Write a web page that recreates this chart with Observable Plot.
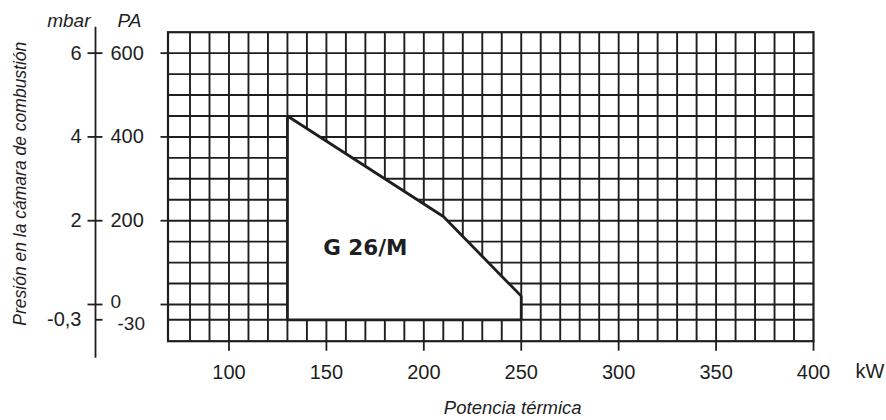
<!DOCTYPE html>
<html>
<head>
<meta charset="utf-8">
<script src="https://cdn.jsdelivr.net/npm/d3@7"></script>
<script src="https://cdn.jsdelivr.net/npm/@observablehq/plot@0.6"></script>
<style>
  body { margin: 0; background: #fff; }
  g[aria-label="envelope-label"] text { letter-spacing: 2px; }
</style>
</head>
<body>
<div id="chart"></div>
<script>
// ---- data ----
const envelopeKW = [130, 130, 210, 250, 250];      // kW
const envelopePa = [-30, 450, 210, 20, -30];       // Pa
const modelName = "G 26/M";
const modelAtKW = 170, modelAtPa = 135;

const xTicks = [100, 150, 200, 250, 300, 350, 400];
const paTicks = [600, 400, 200, 0];
const paLabels = ["600", "400", "200"];
const paZeroLabel = ["0"];
const paNegTicks = [-30];
const paNegLabels = ["-30"];
const mbarTicks = [600, 400, 200, -30];
const mbarLabels = ["6", "4", "2", "-0,3"];

const xGrid = [80, 90, 100, 110, 120, 130, 140, 150, 160, 170, 180, 190, 200, 210, 220, 230, 240,
               250, 260, 270, 280, 290, 300, 310, 320, 330, 340, 350, 360, 370, 380, 390];
const yGrid = [-30, 0, 50, 100, 150, 200, 250, 300, 350, 400, 450, 500, 550, 600];

const X_MIN = 68.7, X_MAX = 400, Y_MIN = -72, Y_MAX = 650;

// ---- derived tables ----
const outline = envelopeKW.map((k, i) => ({kw: k, pa: envelopePa[i]}));
outline.push(outline[0]);
const topEdge = outline.slice(1, 4);
const ink = "#1e1e1e";

const chart = Plot.plot({
  width: 886,
  height: 420,
  marginLeft: 167.5,
  marginRight: 73,
  marginTop: 31.7,
  marginBottom: 79.3,
  style: {fontFamily: "Liberation Sans", color: ink, background: "#fff", overflow: "visible"},
  x: {type: "linear", domain: [X_MIN, X_MAX]},
  y: {type: "linear", domain: [Y_MIN, 0, Y_MAX], range: [340.7, 304, 31.7]},
  marks: [
    // grid
    Plot.ruleX(xGrid, {x: d => d, y1: Y_MIN, y2: Y_MAX, stroke: ink, strokeWidth: 1.9}),
    Plot.ruleY(yGrid, {y: d => d, x1: X_MIN, x2: X_MAX, stroke: ink, strokeWidth: 1.9}),
    Plot.frame({stroke: ink, strokeWidth: 2.2}),
    // envelope
    Plot.areaY(topEdge, {x: "kw", y1: envelopePa[0], y2: "pa", fill: "#fff"}),
    Plot.line(outline, {x: "kw", y: "pa", stroke: ink, strokeWidth: 2.8, strokeLinejoin: "miter"}),
    Plot.text([modelName], {x: () => modelAtKW, y: () => modelAtPa, text: d => d,
      fontFamily: "DejaVu Sans", fontWeight: "bold", fontSize: 21.5, ariaLabel: "envelope-label"}),
    // x axis
    Plot.axisX({ticks: xTicks, tickSize: 10, tickPadding: 14, fontSize: 20, label: null,
      stroke: ink, strokeWidth: 1.8}),
    Plot.text(["kW"], {text: d => d, frameAnchor: "bottom-right", dx: 42, dy: 30,
      textAnchor: "start", lineAnchor: "middle", fontSize: 20}),
    Plot.text(["Potencia térmica"], {text: d => d, frameAnchor: "bottom", dx: 22, dy: 67,
      textAnchor: "middle", lineAnchor: "middle", fontStyle: "italic", fontSize: 18.5}),
    // y: small ticks at frame edge
    Plot.axisY({ticks: paTicks, tickSize: 7, tickFormat: () => "", label: null, stroke: ink, strokeWidth: 1.8}),
    // separate pressure axis on the left
    Plot.ruleX([X_MIN], {x: d => d, dx: -72.5, insetTop: -5, insetBottom: -17, stroke: ink, strokeWidth: 1.8}),
    Plot.axisY({ticks: paTicks, tickSize: 15, dx: -65, tickFormat: () => "", label: null, stroke: ink, strokeWidth: 1.8}),
    Plot.axisY({ticks: paNegTicks, tickSize: 7, dx: -65, tickFormat: () => "", label: null, stroke: ink, strokeWidth: 1.8}),
    Plot.text(paTicks.slice(0, 3), {y: d => d, text: (d, i) => paLabels[i], frameAnchor: "left", dx: -57.5,
      textAnchor: "start", lineAnchor: "middle", fontSize: 20}),
    Plot.text(paTicks.slice(3), {y: d => d, text: (d, i) => paZeroLabel[i], frameAnchor: "left", dx: -57.5, dy: -3,
      textAnchor: "start", lineAnchor: "middle", fontSize: 19}),
    Plot.text(paNegTicks, {y: d => d, text: (d, i) => paNegLabels[i], frameAnchor: "left", dx: -50.5, dy: 4,
      textAnchor: "start", lineAnchor: "middle", fontSize: 19}),
    Plot.text(mbarTicks, {y: d => d, text: (d, i) => mbarLabels[i], frameAnchor: "left", dx: -86.5,
      textAnchor: "end", lineAnchor: "middle", fontSize: 20}),
    Plot.text(["mbar"], {text: d => d, frameAnchor: "top-left", dx: -77.5, dy: -11,
      textAnchor: "end", lineAnchor: "middle", fontStyle: "italic", fontSize: 19}),
    Plot.text(["PA"], {text: d => d, frameAnchor: "top-left", dx: -50.5, dy: -11,
      textAnchor: "start", lineAnchor: "middle", fontStyle: "italic", fontSize: 19}),
    Plot.text(["Presión en la cámara de combustión"], {text: d => d, frameAnchor: "left",
      rotate: -90, dx: -147.5, dy: -3, textAnchor: "middle", lineAnchor: "middle",
      fontStyle: "italic", fontSize: 17.5})
  ]
});
document.getElementById("chart").appendChild(chart);
</script>
</body>
</html>
